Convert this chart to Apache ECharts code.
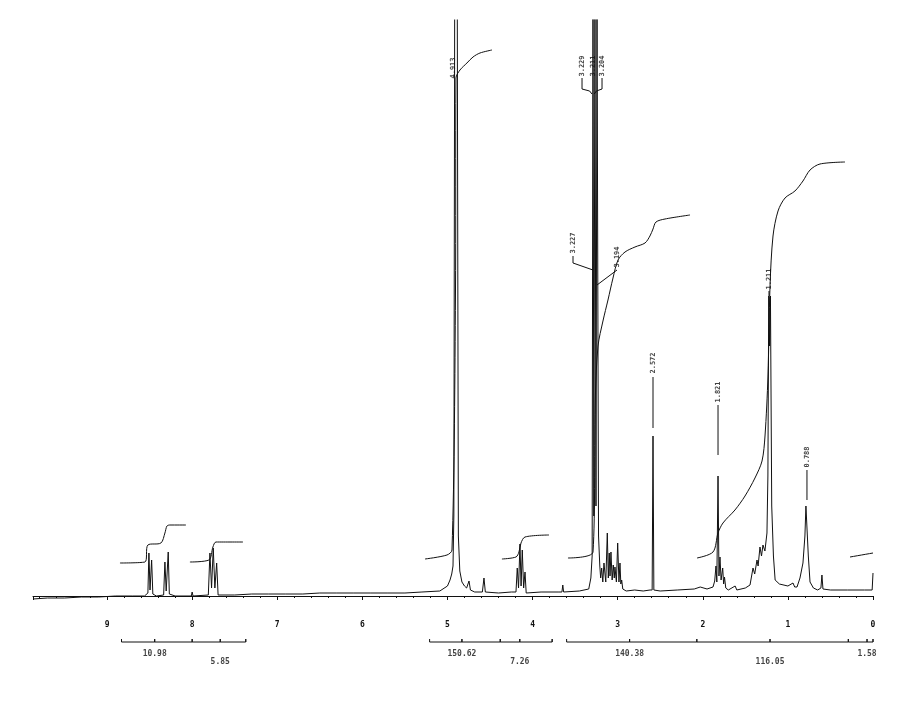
<!DOCTYPE html>
<html><head><meta charset="utf-8">
<script src="https://cdn.jsdelivr.net/npm/echarts@6/dist/echarts.min.js"></script>
<style>html,body{margin:0;padding:0;background:#fff}#c{width:900px;height:702px}</style>
</head><body><div id="c"></div>
<script>
// ---------- DATA (ppm, intensity) ----------
const spectrum = [
[9.87,-3],[9.7,-2],[9.5,-2],[9.3,-1],[9.1,-1],[8.9,0],[8.7,0],[8.56,0],[8.52,3],[8.508,43],[8.495,6],[8.488,8],[8.476,36],[8.462,2],
[8.42,0],[8.335,1],[8.320,34],[8.305,5],[8.296,6],[8.281,44],[8.268,2],[8.2,0],[8.01,0],[8.0,4],[7.99,0],
[7.81,1],[7.791,43],[7.772,8],[7.752,48],[7.733,8],[7.712,33],[7.695,1],[7.5,1],[7.3,2],[7.1,2],[6.9,2],[6.7,2],[6.5,3],
[6.3,3],[6.1,3],[5.9,3],[5.7,3],[5.5,3],[5.3,4],[5.09,5],[5.0,10],[4.97,16],[4.95,22],[4.935,30],[4.925,80],
[4.915,600],[4.90,600],[4.885,600],[4.872,60],[4.855,25],[4.83,14],[4.80,10],[4.775,8],[4.747,15],[4.73,6],[4.68,4],
[4.59,4],[4.571,18],[4.555,4],[4.4,3],[4.25,4],[4.195,4],[4.180,28],[4.165,8],[4.148,52],[4.135,10],[4.121,46],
[4.105,8],[4.089,24],[4.075,3],[3.9,4],[3.7,4],[3.655,4],[3.645,11],[3.635,4],[3.45,5],[3.34,7],[3.315,18],
[3.30,40],[3.29,600],[3.28,80],[3.267,600],[3.255,90],[3.243,600],[3.225,60],[3.21,30],[3.2,18],[3.188,28],
[3.175,14],[3.161,33],[3.14,14],[3.122,63],[3.11,18],[3.099,43],[3.09,20],[3.079,44],[3.065,16],[3.052,31],
[3.04,18],[3.032,29],[3.015,14],[3.000,53],[2.985,14],[2.973,33],[2.963,12],[2.953,16],[2.94,7],[2.9,5],[2.8,6],
[2.7,5],[2.62,6],[2.595,6],[2.585,160],[2.575,6],[2.5,5],[2.3,6],[2.1,7],[2.03,9],[1.95,7],[1.88,9],[1.86,15],
[1.845,30],[1.835,14],[1.821,120],[1.81,20],[1.798,39],[1.785,16],[1.766,28],[1.755,12],[1.745,19],[1.73,8],
[1.7,6],[1.62,10],[1.6,6],[1.5,8],[1.445,11],[1.41,28],[1.39,22],[1.363,36],[1.35,30],[1.328,49],[1.31,40],
[1.293,51],[1.27,45],[1.246,63],[1.235,120],[1.225,300],[1.215,250],[1.205,300],[1.19,90],[1.17,40],[1.15,16],
[1.10,12],[1.0,10],[0.94,13],[0.92,9],[0.893,9],[0.858,18],[0.823,33],[0.80,60],[0.788,90],[0.776,90],[0.76,40],
[0.74,14],[0.7,8],[0.65,6],[0.612,8],[0.60,21],[0.588,7],[0.5,6],[0.3,6],[0.1,6],[0.01,6],[0.0,23]
];
const integralCurves = [
  [[8.848,33],[8.555,34],[8.520,51],[8.367,53],[8.320,63],[8.296,70],[8.261,71],[8.073,71]],
  [[8.026,34],[7.803,36],[7.756,49],[7.720,54],[7.403,54]],
  [[5.264,37],[5.006,41],[4.947,46],[4.906,300],[4.900,518],[4.853,526],[4.771,533],[4.700,539],[4.618,543],[4.477,546]],
  [[4.360,37],[4.195,39],[4.160,44],[4.136,53],[4.089,59],[3.807,61]],
  [[3.584,38],[3.290,44],[3.262,200],[3.231,250],[3.173,275],[3.114,296],[3.055,318],[2.996,336],[2.914,344],[2.797,349],[2.679,353],[2.621,360],[2.585,367],[2.550,374],[2.444,377],[2.150,381]],
  [[2.068,38],[1.880,44],[1.821,63],[1.763,73],[1.622,86],[1.504,100],[1.387,118],[1.304,135],[1.269,160],[1.234,220],[1.210,310],[1.175,360],[1.116,385],[1.034,398],[0.917,405],[0.823,415],[0.740,426],[0.623,432],[0.329,434]],
  [[0.270,39],[0.0,43]]
];
const peakLabelTexts = ['4.913','3.229','3.211','3.204','3.227','3.194','2.572','1.821','1.211','0.788'];
const integralValues = ['10.98','5.85','150.62','7.26','140.38','116.05','1.58'];
const integralRegions = [[8.83,8.0],[8.0,7.37],[5.21,4.38],[4.38,3.77],[3.60,2.07],[2.07,0.29],[0.29,0.0]];
const integralLabelPpm = [8.44,7.67,4.83,4.15,2.86,1.21,0.07];

// ---------- LAYOUT ----------
const labelLayout = [
  {at:[4.935,528], leader:null},
  {at:[3.419,530], leader:[[3.419,518],[3.419,507],[3.33,505],[3.302,502]]},
  {at:[3.290,530], leader:null},
  {at:[3.184,530], leader:[[3.184,518],[3.184,507],[3.25,505],[3.275,502]]},
  {at:[3.525,353], leader:[[3.525,340],[3.525,333],[3.29,326]]},
  {at:[3.008,339], leader:[[3.008,326],[3.243,311]]},
  {at:[2.585,233], leader:[[2.585,219],[2.585,168]]},
  {at:[1.821,204], leader:[[1.821,191],[1.821,141]]},
  {at:[1.222,317], leader:[[1.222,305],[1.222,300]]},
  {at:[0.776,139], leader:[[0.776,126],[0.776,96]]}
];
const ink = '#111';
const series = [];
series.push({type:'line', data:spectrum, showSymbol:false, symbol:'none', clip:true,
  lineStyle:{color:ink, width:1}, animation:false, z:3});
integralCurves.forEach(c => series.push({type:'line', data:c, symbol:'none', smooth:0.3, clip:true,
  lineStyle:{color:ink, width:1}, animation:false}));
labelLayout.forEach(l => { if (l.leader) series.push({type:'line', data:l.leader, symbol:'none',
  lineStyle:{color:ink, width:1}, animation:false}); });
series.push({type:'scatter', symbolSize:0, animation:false, z:5,
  data: labelLayout.map((l,i)=>({value:l.at, name:peakLabelTexts[i]})),
  label:{show:true, position:'inside', rotate:90, formatter:p=>p.name, color:ink,
    fontFamily:'DejaVu Sans Mono', fontWeight:'bold', fontSize:7}});
// brackets in second grid
const groups = [[0,1],[2,3],[4,5,6]];
groups.forEach(g => {
  const pts = [];
  g.forEach((ri,k) => {
    const [s,e] = integralRegions[ri]; const m = integralLabelPpm[ri];
    if (k===0) pts.push([s,9]);
    pts.push([s,12],[m,12],[m,9],[m,12],[e,12],[e,9],[e,12]);
  });
  series.push({type:'line', xAxisIndex:1, yAxisIndex:1, data:pts, symbol:'none',
    lineStyle:{color:ink, width:1}, animation:false});
});
series.push({type:'scatter', xAxisIndex:1, yAxisIndex:1, symbolSize:0, animation:false,
  data: integralValues.map((t,i)=>({value:[integralLabelPpm[i], i%2===0?24:32], name:t})),
  label:{show:true, position:'inside', formatter:p=>p.name, color:ink,
    fontFamily:'DejaVu Sans Mono', fontWeight:'bold', fontSize:8}});

const chart = echarts.init(document.getElementById('c'), null, {renderer:'canvas'});
chart.setOption({
  backgroundColor:'#fff',
  animation:false,
  grid:[{left:33, right:27, top:20, bottom:90},{left:33, right:27, top:630, height:40}],
  xAxis:[
    {type:'value', inverse:true, min:0, max:9.87, interval:1,
      axisLine:{show:true, lineStyle:{color:ink, width:1}},
      axisTick:{show:true, length:4, lineStyle:{color:ink}},
      minorTick:{show:true, splitNumber:5, length:2, lineStyle:{color:ink}},
      splitLine:{show:false}, minorSplitLine:{show:false},
      axisLabel:{show:true, margin:9, color:ink, fontFamily:'DejaVu Sans Mono', fontWeight:'bold', fontSize:8, showMaxLabel:false}},
    {type:'value', gridIndex:1, inverse:true, min:0, max:9.87, show:false}
  ],
  yAxis:[
    {type:'value', min:-16, max:576, show:false},
    {type:'value', gridIndex:1, min:0, max:40, inverse:true, show:false}
  ],
  series
});
</script></body></html>
